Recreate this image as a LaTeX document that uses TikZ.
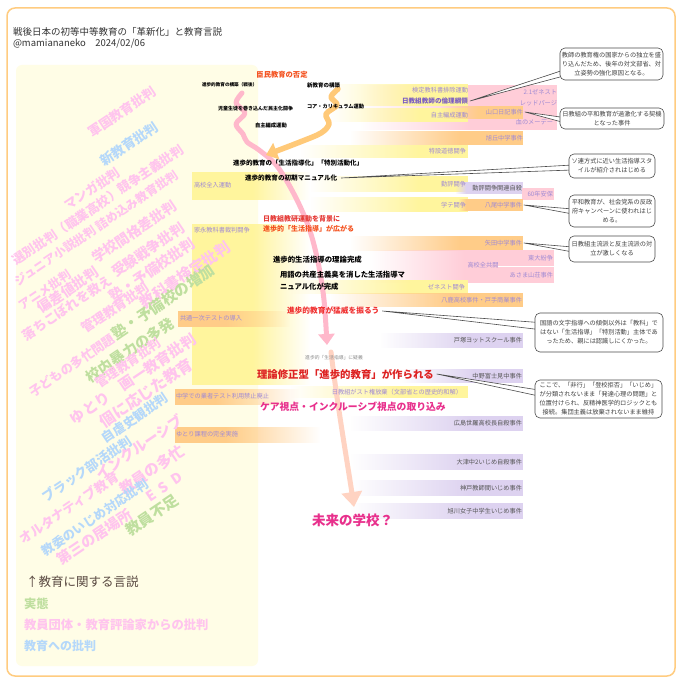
\documentclass[tikz,border=0pt]{standalone}
\usepackage{fontspec}
\setmainfont{Noto Sans CJK JP}
\usetikzlibrary{arrows.meta,fadings}
\pgfdeclarelayer{bg}
\pgfdeclarelayer{fg}
\pgfsetlayers{bg,main,fg}
\definecolor{frameC}{HTML}{FFCC80}
\definecolor{panelC}{HTML}{FFFDE6}
\definecolor{barY}{HTML}{FFF59D}
\definecolor{barP}{HTML}{FFCDD8}
\definecolor{barO}{HTML}{FFCC88}
\definecolor{barU}{HTML}{DDD2F0}
\definecolor{txtU}{HTML}{A08AD4}
\definecolor{txtUd}{HTML}{7A5CC2}
\definecolor{txtG}{HTML}{555555}
\definecolor{cPink}{HTML}{FFC4EE}
\definecolor{cBlue}{HTML}{B5D8FA}
\definecolor{cGreen}{HTML}{BFDF9F}
\definecolor{arPink}{HTML}{FFB8CB}
\definecolor{arOrange}{HTML}{FFC978}
\definecolor{arPeach}{HTML}{FFD3C2}
\definecolor{redA}{HTML}{E53935}
\definecolor{redB}{HTML}{F4511E}
\definecolor{redC}{HTML}{F03030}
\definecolor{redD}{HTML}{DD2222}
\definecolor{magA}{HTML}{E8308C}
\definecolor{legC}{HTML}{5A4A42}
\tikzfading[name=fr, left color=transparent!100, right color=transparent!0]
\tikzfading[name=fl, left color=transparent!0, right color=transparent!100]
\newcommand\RBar[6]{\fill[#1,path fading=fr] (#2,#5) rectangle (#3,#6); \fill[#1] (#3,#5) rectangle (#4,#6);}
\newcommand\LBar[6]{\fill[#1] (#2,#5) rectangle (#3,#6); \fill[#1,path fading=fl] (#3,#5) rectangle (#4,#6);}
\newcommand\FSz[1]{\fontsize{#1}{#1}\selectfont}
\tikzset{
 lab/.style={inner sep=0pt, outer sep=0pt},
 bt/.style={lab, font=\FSz{6.2}, text=txtU},
 btR/.style={bt, anchor=east},
 btG/.style={bt, anchor=east, text=txtG},
 btL/.style={bt, anchor=west},
 blk/.style={lab, anchor=west, font=\bfseries\FSz{#1}, text=black},
 rot/.style={lab, rotate=34, font=\bfseries\FSz{#1}},
 callout/.style={draw=black!70, fill=white, rounded corners=5pt, line width=0.6pt, inner sep=1pt, align=center, font=\fontsize{6.2}{9}\selectfont, text=black!75},
 wedge/.style={draw=black!70, fill=white, line width=0.6pt, line join=round},
 flow/.style={line width=5pt, line cap=round, line join=round},
}
\begin{document}
\begin{tikzpicture}[x=1pt,y=-1pt]
\useasboundingbox (0,0) rectangle (684,684);
\begin{pgfonlayer}{bg}
\fill[white] (0,0) rectangle (684,684);
\draw[frameC, line width=1.5pt, rounded corners=8pt, fill=white] (7,8) rectangle (675,676);
\fill[panelC, rounded corners=6pt] (16,65) rectangle (258,666);
% left bars
\LBar{barY}{192}{252}{310}{172}{200}
\LBar{barY}{192}{252}{310}{224}{385}
\LBar{barO}{178}{225}{290}{311}{327}
\LBar{barO}{175}{215}{300}{389}{405}
\LBar{barO}{175}{225}{320}{427}{443}
% right bars
\RBar{barP}{360}{470}{557}{85}{130}
\RBar{barY}{330}{420}{468}{84}{106}
\RBar{barY}{330}{420}{468}{108}{122}
\RBar{barO}{440}{478}{523}{106}{119}
\RBar{barO}{350}{460}{523}{131}{145}
\RBar{barY}{300}{420}{468}{145}{158}
\RBar{barY}{310}{420}{468}{176}{192}
\RBar{barU}{455}{466}{523}{182}{194}
\fill[barP] (522,188) rectangle (554,200);
\RBar{barY}{310}{420}{468}{197}{212}
\RBar{barO}{458}{466}{523}{199}{211}
\RBar{barO}{350}{460}{523}{236}{251}
\RBar{barP}{370}{465}{554}{250}{283}
\draw[white, line width=1pt] (498,266) -- (554,266);
\RBar{barY}{290}{410}{468}{280}{294}
\RBar{barO}{330}{450}{523}{293}{307}
\RBar{barU}{380}{470}{523}{333}{348}
\RBar{barU}{400}{475}{523}{369}{383}
\RBar{barY}{290}{400}{468}{386}{398}
\RBar{barU}{350}{470}{523}{416}{431}
\RBar{barU}{350}{470}{523}{454}{470}
\RBar{barU}{350}{470}{523}{480}{496}
\RBar{barU}{350}{470}{523}{503}{519}
\end{pgfonlayer}

% flows
\coordinate (pinkS) at (242,93);
\coordinate (pinkE) at (327,345);
\coordinate (oranS) at (338,89);
\coordinate (oranE) at (266,155);
\coordinate (peachS) at (331,352);
\coordinate (peachE) at (354,507);
\draw[flow, arPink, -{Triangle[length=11pt,width=16pt]}] plot[smooth, tension=0.55] coordinates {(pinkS) (236,103) (245,113) (236,124) (243,134) (247,142) (259,150) (277,166) (295,196) (309,228) (318,262) (324,300) (pinkE)};
\draw[flow, arOrange, line width=5.5pt, -{Triangle[length=11pt,width=17pt]}] plot[smooth, tension=0.55] coordinates {(oranS) (331,97) (337,105) (326,114) (329,124) (321,133) (300,142) (oranE)};
\draw[flow, arPeach, -{Triangle[length=15pt,width=20pt]}] (peachS) .. controls (338,410) and (347,460) .. (peachE);

% rotated discourse texts
\node[rot=13, text=cPink] (r1) at (122,112) {軍国教育批判};
\node[rot=13.3, text=cBlue] (r2) at (129,144) {新教育批判};
\node[rot=12.8, text=cPink] (r3) at (92,189) {マンガ批判};
\node[rot=12.7, text=cPink] (r4) at (98,205) {選別批判（職業高校）競争主義批判};
\node[rot=12, text=cPink] (r5) at (96,228) {ジュニア小説批判\hspace{3pt}詰め込み教育批判};
\node[rot=12, text=cPink] (r6) at (45,290) {アニメ批判};
\node[rot=14, text=cPink] (r7) at (134,232) {学校間格差批判};
\node[rot=14, text=cPink] (r8) at (68,290) {偏差値批判};
\node[rot=14, text=cPink] (r9) at (148,250) {受験戦争批判};
\node[rot=13, text=cPink] (r10) at (67,308) {落ちこぼれを救え};
\node[rot=14.3, text=cPink] (r11) at (152,270) {塾・予備校批判};
\node[rot=15, text=cPink] (r12) at (185,275) {教科書検定批判};
\node[rot=13, text=cPink] (r13) at (115,308) {管理教育批判};
\node[rot=15, text=cGreen] (r14) at (163,302) {塾・予備校の増加};
\node[rot=12.5, text=cPink] (r15) at (72,366) {子どもの多忙問題};
\node[rot=14.6, text=cGreen] (r16) at (130,350) {校内暴力の多発};
\node[rot=12.7, text=cPink] (r17) at (128,363) {管理教育批判};
\node[rot=14.8, text=cPink] (r18) at (133,379) {ゆとり　画一教育批判};
\node[rot=15.5, text=cPink] (r19) at (146,393) {個に応じた教育};
\node[rot=12.8, text=cBlue] (r20) at (135,418) {自虐史観批判};
\node[rot=13.1, text=cBlue] (r21) at (87,469) {ブラック部活批判};
\node[rot=14.6, text=cPink] (r22) at (139,447) {インクルーシブ};
\node[rot=13.1, text=cPink] (r23) at (69,508) {オルタナティブ教育};
\node[rot=15, text=cPink] (r24) at (152,470) {教員の多忙};
\node[rot=12.5, text=cBlue] (r25) at (95,518) {教委のいじめ対応批判};
\node[rot=14, text=cPink] (r26) at (164,487) {E\hspace{6pt}S\hspace{6pt}D};
\node[rot=14.5, text=cPink] (r27) at (94,537) {第三の居場所};
\node[rot=15, text=cGreen] (r28) at (152,515) {教員不足};

% title
\node[lab, anchor=west, font=\FSz{9.5}, text=black!80] (title) at (13,32) {戦後日本の初等中等教育の「革新化」と教育言説};
\node[lab, anchor=west, font=\FSz{9.5}, text=black!80] (author) at (13,44) {@mamiananeko\quad 2024/02/06};

% legend
\node[lab, anchor=west, font=\FSz{12.5}, text=legC] (lg0) at (26,582) {↑教育に関する言説};
\node[lab, anchor=west, font=\bfseries\FSz{12.3}, text=cGreen] (lg1) at (24,604) {実態};
\node[lab, anchor=west, font=\bfseries\FSz{12.3}, text=cPink] (lg2) at (24,625) {教員団体・教育評論家からの批判};
\node[lab, anchor=west, font=\bfseries\FSz{12}, text=cBlue] (lg3) at (24,646) {教育への批判};

% central texts
\node[lab, font=\bfseries\FSz{7.3}, text=redB] (shinmin) at (282,75) {臣民教育の否定};
\node[blk=4.6] (kouchiku) at (202,85) {進歩的教育の構築（戦後）};
\node[blk=5.5] (shinkyo) at (307,85) {新教育の構築};
\node[blk=5] (jido) at (218,109) {児童生徒を巻き込んだ民主化闘争};
\node[blk=5.2] (core) at (307,107) {コア・カリキュラム運動};
\node[blk=5.3] (jishu) at (255,125) {自主編成運動};
\node[blk=6.5] (seikatsu) at (233,163) {進歩的教育の「生活指導化」「特別活動化」};
\node[blk=6.6] (manual) at (245,178) {進歩的教育の初期マニュアル化};
\node[blk=7, text=redA] (kyoken) at (263,219) {日教組教研運動を背景に};
\node[blk=7, text=redB] (hirogaru) at (263,229) {進歩的「生活指導」が広がる};
\node[blk=7.4] (rironk) at (273,260) {進歩的生活指導の理論完成};
\node[lab, anchor=west, align=left, font=\bfseries\fontsize{7.35}{12}\selectfont] (yogo) at (280,281) {用語の共産主義臭を消した生活指導マ\\ニュアル化が完成};
\node[blk=7.7, text=redC] (moui) at (287,311) {進歩的教育が猛威を振るう};
\node[lab, font=\FSz{4.8}, text=black!45] (gigi) at (334,358) {進歩的「生活指導」に疑義};
\node[blk=10.4, text=redD] (riron) at (257,374) {理論修正型「進歩的教育」が作られる};
\node[blk=9.8, text=magA] (care) at (260,407) {ケア視点・インクルーシブ視点の取り込み};
\node[blk=13.5, text=magA] (mirai) at (312,520) {未来の学校？};

% left bar texts
\node[btL] (zennyu) at (194,185) {高校全入運動};
\node[btL] (ienaga) at (194,230) {家永教科書裁判闘争};
\node[btL] (kyotsu) at (180,318) {共通一次テストの導入};
\node[btL] (gyosha) at (176,396) {中学での業者テスト利用禁止廃止};
\node[btL] (yutori) at (176,434) {ゆとり課程の完全実施};

% right bar texts
\node[btR] (kentei) at (468,90) {検定教科書排除運動};
\node[btR, font=\bfseries\FSz{6.6}, text=txtUd] (rinri) at (468,101) {日教組教師の倫理綱領};
\node[btR] (jishu2) at (468,115) {自主編成運動};
\node[btR] (gene21) at (557,92) {2.1ゼネスト};
\node[btR] (red) at (557,103) {レッドパージ};
\node[btR] (yamaguchi) at (523,112) {山口日記事件};
\node[btR] (chi) at (553,122) {血のメーデー};
\node[btR] (asahi) at (523,138) {旭丘中学事件};
\node[btR] (tokusetsu) at (466,151) {特設道徳闘争};
\node[btR] (kinpyo) at (466,184) {勤評闘争};
\node[btG] (kinpyoj) at (522,188) {勤評闘争関連自殺};
\node[btR] (anpo) at (553,194) {60年安保};
\node[btR] (gakute) at (466,205) {学テ闘争};
\node[btR] (yao) at (522,205) {八尾中学事件};
\node[btR] (yata) at (522,243) {矢田中学事件};
\node[btR] (todai) at (553,258) {東大紛争};
\node[bt] (zenkyo) at (483,265) {高校全共闘};
\node[btR] (asama) at (553,275) {あさま山荘事件};
\node[btR] (genesuto) at (465,287) {ゼネスト闘争};
\node[btR] (yoka) at (522,300) {八鹿高校事件・戸手商業事件};
\node[btG] (totsuka) at (522,340) {戸塚ヨットスクール事件};
\node[btG] (nakano) at (522,376) {中野富士見中事件};
\node[btR] (sutoken) at (462,392) {日教組がスト権放棄（文部省との歴史的和解）};
\node[btG] (sera) at (522,423) {広島世羅高校長自殺事件};
\node[btG] (otsu) at (522,462) {大津中2いじめ自殺事件};
\node[btG] (kobe) at (522,488) {神戸教師間いじめ事件};
\node[btG] (asahikawa) at (522,511) {旭川女子中学生いじめ事件};

% callout boxes
\begin{pgfonlayer}{fg}
\node[callout, minimum width=103pt, minimum height=32pt] (c1) at (611.5,64) {教師の教育権の国家からの独立を盛\\り込んだため、後年の対文部省、対\\立姿勢の強化原因となる。};
\node[callout, minimum width=104pt, minimum height=21pt] (c2) at (612,118.5) {日教組の平和教育が過激化する契機\\となった事件};
\node[callout, minimum width=86pt, minimum height=24pt] (c3) at (612,166) {ソ連方式に近い生活指導スタ\\イルが紹介されはじめる};
\node[callout, minimum width=86pt, minimum height=32pt] (c4) at (612,211) {平和教育が、社会党系の反政\\府キャンペーンに使われはじ\\める。};
\node[callout, minimum width=86pt, minimum height=26pt] (c5) at (612,249) {日教組主流派と反主流派の対\\立が激しくなる};
\node[callout, minimum width=128pt, minimum height=39pt] (c6) at (599,332.5) {国語の文字指導への傾倒以外は「教科」で\\はない「生活指導」「特別活動」主体であ\\ったため、親には認識しにくかった。};
\node[callout, minimum width=127pt, minimum height=38pt] (c7) at (598.5,399) {ここで、「非行」「登校拒否」「いじめ」\\が分類されないまま「発達心理の問題」と\\位置付けられ、反精神医学的ロジックとも\\接続。集団主義は放棄されないまま維持};
\end{pgfonlayer}

% callout pointers
\filldraw[wedge] ([xshift=2pt]rinri.east) -- ([xshift=4pt,yshift=-6pt]c1.west) -- ([xshift=4pt,yshift=-12pt]c1.west) -- cycle;
\filldraw[wedge] ([xshift=2pt]yamaguchi.east) -- ([xshift=4pt,yshift=1pt]c2.west) -- ([xshift=4pt,yshift=-4pt]c2.west) -- cycle;
\filldraw[wedge] ([xshift=4pt]manual.east) -- ([xshift=4pt,yshift=1pt]c3.west) -- ([xshift=4pt,yshift=-4pt]c3.west) -- cycle;
\filldraw[wedge] ([xshift=2pt]yao.east) -- ([xshift=4pt,yshift=2pt]c4.west) -- ([xshift=4pt,yshift=-3pt]c4.west) -- cycle;
\filldraw[wedge] ([xshift=2pt]yata.east) -- ([xshift=4pt,yshift=2pt]c5.west) -- ([xshift=4pt,yshift=-3pt]c5.west) -- cycle;
\filldraw[wedge] ([xshift=3pt]moui.east) -- ([xshift=4pt,yshift=10pt]c6.west) -- ([xshift=4pt,yshift=3pt]c6.west) -- cycle;
\filldraw[wedge] ([xshift=3pt]riron.east) -- ([xshift=4pt,yshift=9pt]c7.west) -- ([xshift=4pt,yshift=3pt]c7.west) -- cycle;
\end{tikzpicture}
\end{document}
